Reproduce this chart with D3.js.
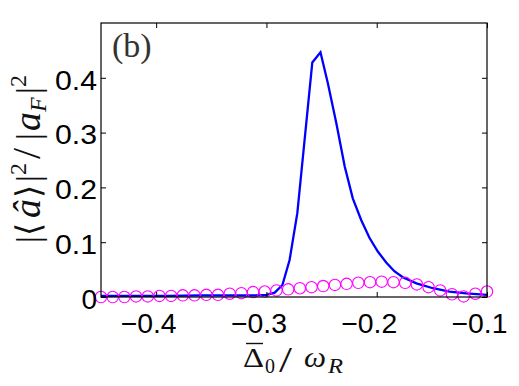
<!DOCTYPE html>
<html><head><meta charset="utf-8">
<script src="https://cdn.jsdelivr.net/npm/d3@7"></script>
<style>body{margin:0;background:#fff}svg{display:block}</style>
</head><body>
<script>
// Blue line series
const lineX = [-0.45, -0.42, -0.39, -0.36, -0.33, -0.31, -0.30, -0.2925, -0.2855, -0.279, -0.272, -0.2584, -0.251, -0.2443, -0.2367, -0.229, -0.2217, -0.214, -0.2066, -0.199, -0.1914, -0.184, -0.1764, -0.164, -0.149, -0.134, -0.119, -0.1];
const lineY = [0.002, 0.002, 0.002, 0.003, 0.003, 0.003, 0.004, 0.008, 0.022, 0.0675, 0.153, 0.428, 0.4465, 0.39, 0.318, 0.238, 0.18, 0.14, 0.108, 0.083, 0.063, 0.047, 0.036, 0.025, 0.016, 0.010, 0.0065, 0.004];
// Magenta circle series
const circX = [-0.45, -0.4394, -0.4288, -0.4182, -0.4076, -0.3970, -0.3864, -0.3758, -0.3652, -0.3545, -0.3439, -0.3333, -0.3227, -0.3121, -0.3015, -0.2909, -0.2803, -0.2697, -0.2591, -0.2485, -0.2379, -0.2273, -0.2167, -0.2061, -0.1955, -0.1848, -0.1742, -0.1636, -0.1530, -0.1424, -0.1318, -0.1212, -0.1106, -0.1000];
const circY = [0, 0, 0, 0.001, 0.001, 0.002, 0.002, 0.003, 0.003, 0.004, 0.004, 0.006, 0.007, 0.009, 0.010, 0.012, 0.014, 0.016, 0.018, 0.020, 0.022, 0.024, 0.026, 0.027, 0.028, 0.027, 0.026, 0.023, 0.018, 0.012, 0.005, 0.001, 0.006, 0.010];
// Ticks
const xTicks = [-0.4, -0.3, -0.2, -0.1];
const xTickLabels = ["\u22120.4", "\u22120.3", "\u22120.2", "\u22120.1"];
const yTicks = [0, 0.1, 0.2, 0.3, 0.4];
const yTickLabels = ["0", "0.1", "0.2", "0.3", "0.4"];

const W = 519, H = 386;
const L = 101, R = 487, T = 23, B = 297;
const svg = d3.select("body").append("svg").attr("width", W).attr("height", H);
const x = d3.scaleLinear().domain([-0.45, -0.1]).range([L, R]);
const y = d3.scaleLinear().domain([0, 0.5]).range([B, T]);

// line
svg.append("path")
  .datum(lineX.map((d, i) => [d, lineY[i]]))
  .attr("fill", "none").attr("stroke", "#0000ff").attr("stroke-width", 2.3)
  .attr("stroke-linejoin", "miter")
  .attr("d", d3.line().x(d => x(d[0])).y(d => y(d[1])));

// circles
svg.append("g").selectAll("circle")
  .data(circX.map((d, i) => [d, circY[i]]))
  .join("circle")
  .attr("cx", d => x(d[0])).attr("cy", d => y(d[1])).attr("r", 5.7)
  .attr("fill", "none").attr("stroke", "#ff00ff").attr("stroke-width", 1.1);

// axes
const font = "'Liberation Sans', Arial, sans-serif";
const xa = svg.append("g").attr("transform", `translate(0,${B})`)
  .call(d3.axisBottom(x).tickValues(xTicks).tickFormat((d, i) => xTickLabels[i]).tickSizeInner(-5).tickSizeOuter(0).tickPadding(16));
const ya = svg.append("g").attr("transform", `translate(${L},0)`)
  .call(d3.axisLeft(y).tickValues(yTicks).tickFormat((d, i) => yTickLabels[i]).tickSizeInner(-5).tickSizeOuter(0).tickPadding(4));
svg.append("g").attr("transform", `translate(0,${T})`)
  .call(d3.axisTop(x).tickValues(xTicks).tickFormat("").tickSizeInner(-5).tickSizeOuter(0));
svg.append("g").attr("transform", `translate(${R},0)`)
  .call(d3.axisRight(y).tickValues(yTicks).tickFormat("").tickSizeInner(-5).tickSizeOuter(0));
svg.selectAll(".domain").remove();
svg.selectAll(".tick line").attr("stroke", "#000").attr("stroke-width", 1);
svg.selectAll(".tick text").attr("font-family", font).attr("font-size", 28).attr("fill", "#000");
xa.selectAll(".tick text").attr("dx", -8).attr("textLength", 56).attr("lengthAdjust", "spacingAndGlyphs");
ya.selectAll(".tick text").attr("dy", "0.4em")
  .filter(d => d !== 0).attr("textLength", 42).attr("lengthAdjust", "spacingAndGlyphs");

svg.append("rect").attr("x", L).attr("y", T).attr("width", R - L).attr("height", B - T)
  .attr("fill", "none").attr("stroke", "#000").attr("stroke-width", 1.2);

const serif = "'Liberation Serif', serif";
// panel label
svg.append("text").attr("x", 112).attr("y", 57).attr("font-family", serif)
  .attr("font-size", 34).attr("fill", "#333").text("(b)");

// x label (pieces)
const xl = svg.append("g").attr("font-family", serif).attr("fill", "#111");
xl.append("text").attr("x", 243).attr("y", 366.5).attr("font-size", 27).attr("textLength", 21).attr("lengthAdjust", "spacingAndGlyphs").text("\u0394");
xl.append("line").attr("x1", 246).attr("x2", 263).attr("y1", 343.5).attr("y2", 343.5).attr("stroke", "#111").attr("stroke-width", 1.4);
xl.append("text").attr("x", 265).attr("y", 373).attr("font-size", 20).text("0");
xl.append("text").attr("x", 279).attr("y", 372).attr("font-size", 36).attr("textLength", 13).attr("lengthAdjust", "spacingAndGlyphs").text("/");
xl.append("text").attr("x", 304).attr("y", 366.5).attr("font-size", 30).attr("font-style", "italic").attr("textLength", 22).attr("lengthAdjust", "spacingAndGlyphs").text("\u03c9");
xl.append("text").attr("x", 328).attr("y", 373).attr("font-size", 20).attr("font-style", "italic").attr("textLength", 15).attr("lengthAdjust", "spacingAndGlyphs").text("R");

// y label (pieces, rotated)
const yl = svg.append("text").attr("transform", "translate(40,243) rotate(-90)")
  .attr("font-family", serif).attr("font-size", 34).attr("fill", "#111");
yl.append("tspan").attr("x", 0).attr("y", 0).text("|");
yl.append("tspan").attr("x", 7).attr("y", 0).attr("font-family", "'DejaVu Sans'").attr("font-weight", 200).text("\u27e8");
yl.append("tspan").attr("x", 25).attr("y", 0).attr("font-style", "italic").attr("font-size", 38).text("\u00e2");
yl.append("tspan").attr("x", 45).attr("y", 0).attr("font-family", "'DejaVu Sans'").attr("font-weight", 200).text("\u27e9");
yl.append("tspan").attr("x", 61).attr("y", 0).text("|");
yl.append("tspan").attr("x", 68).attr("y", -14).attr("font-size", 24).text("2");
yl.append("tspan").attr("x", 84).attr("y", 0).attr("font-size", 40).text("/");
yl.append("tspan").attr("x", 103).attr("y", 0).text("|");
yl.append("tspan").attr("x", 112).attr("y", 0).attr("font-style", "italic").attr("font-size", 38).text("a");
yl.append("tspan").attr("x", 131).attr("y", 6).attr("font-style", "italic").attr("font-size", 24).text("F");
yl.append("tspan").attr("x", 149).attr("y", 0).text("|");
yl.append("tspan").attr("x", 156).attr("y", -14).attr("font-size", 24).text("2");
</script>
</body></html>
